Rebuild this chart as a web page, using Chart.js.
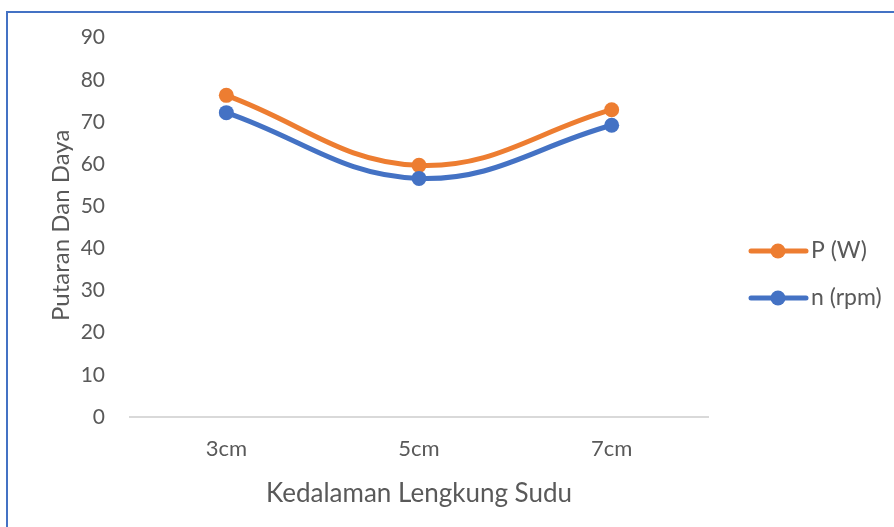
<!DOCTYPE html>
<html>
<head>
<meta charset="utf-8">
<script src="https://cdn.jsdelivr.net/npm/chart.js@4.4.0/dist/chart.umd.min.js"></script>
<style>
  html, body { margin: 0; padding: 0; background: #ffffff; }
  #wrap { position: relative; width: 894px; height: 527px; overflow: hidden; }
  #c { position: absolute; left: 0; top: 0; }
  #frame { position: absolute; left: 6px; top: 11px; width: 1000px; height: 1000px;
           border-left: 2px solid #4472C4; border-top: 2px solid #4472C4; pointer-events: none; }
</style>
</head>
<body>
<div id="wrap">
  <canvas id="c" width="894" height="527"></canvas>
  <div id="frame"></div>
</div>
<script>
const categories = ['3cm', '5cm', '7cm'];
const seriesNames = ['P (W)', 'n (rpm)'];
const powerW = [76.3, 59.7, 72.9];
const speedRpm = [72.2, 56.6, 69.2];
const yTicks = [0, 10, 20, 30, 40, 50, 60, 70, 80, 90];
const xTitle = 'Kedalaman Lengkung Sudu';
const yTitle = 'Putaran Dan Daya';

const ORANGE = '#ED7D31';
const BLUE = '#4472C4';
const TEXT = '#595959';
const FONT = 'Lato, "Open Sans", sans-serif';

const annotationsPlugin = {
  id: 'customLegendAndTitle',
  afterDraw(chart) {
    const ctx = chart.ctx;
    const area = chart.chartArea;
    ctx.save();
    ctx.setTransform(1, 0, 0, 1, 0, 0);
    // y-axis title: baseline on the right, letters extend to the left
    ctx.fillStyle = TEXT;
    ctx.font = '24px ' + FONT;
    ctx.textAlign = 'center';
    ctx.textBaseline = 'middle';
    ctx.translate(61, (area.top + area.bottom) / 2 - 2);
    ctx.rotate(-Math.PI / 2);
    ctx.fillText(yTitle, 0, 0);
    ctx.restore();

    const items = [
      { label: seriesNames[0], color: ORANGE, y: 251 },
      { label: seriesNames[1], color: BLUE, y: 298 }
    ];
    ctx.save();
    items.forEach(it => {
      ctx.strokeStyle = it.color;
      ctx.lineWidth = 5;
      ctx.lineCap = 'round';
      ctx.beginPath();
      ctx.moveTo(751, it.y);
      ctx.lineTo(806, it.y);
      ctx.stroke();
      ctx.fillStyle = it.color;
      ctx.beginPath();
      ctx.arc(778, it.y, 7.5, 0, Math.PI * 2);
      ctx.fill();
      ctx.fillStyle = TEXT;
      ctx.font = '23px ' + FONT;
      ctx.textBaseline = 'middle';
      ctx.textAlign = 'left';
      ctx.fillText(it.label, 811, it.y);
    });
    ctx.restore();
  }
};

new Chart(document.getElementById('c'), {
  type: 'line',
  data: {
    labels: categories,
    datasets: [
      { label: seriesNames[0], data: powerW, borderColor: ORANGE, backgroundColor: ORANGE,
        borderWidth: 5, pointRadius: 7.5, pointHoverRadius: 7.5, pointBorderWidth: 0,
        tension: 0.4, order: 2 },
      { label: seriesNames[1], data: speedRpm, borderColor: BLUE, backgroundColor: BLUE,
        borderWidth: 5, pointRadius: 7.5, pointHoverRadius: 7.5, pointBorderWidth: 0,
        tension: 0.4, order: 1 }
    ]
  },
  options: {
    responsive: false,
    animation: false,
    devicePixelRatio: 1,
    layout: { padding: { left: 0, right: 186, top: 37, bottom: 0 } },
    plugins: { legend: { display: false }, tooltip: { enabled: false } },
    scales: {
      x: {
        offset: true,
        grid: { display: false, drawTicks: false },
        border: { display: true, color: '#D9D9D9', width: 2 },
        ticks: { color: TEXT, font: { family: FONT, size: 22 }, padding: 19 },
        title: { display: true, text: xTitle, color: TEXT,
                 font: { family: FONT, size: 26 }, padding: { top: 0, bottom: 18 } },
        afterFit(scale) { scale.height = 110; }
      },
      y: {
        min: 0, max: 90,
        afterBuildTicks(scale) { scale.ticks = yTicks.map(v => ({ value: v })); },
        grid: { display: false, drawTicks: false },
        border: { display: false },
        ticks: { color: TEXT, font: { family: FONT, size: 21 }, padding: 25 },
        title: { display: false },
        afterFit(scale) { scale.width = 130; }
      }
    }
  },
  plugins: [annotationsPlugin]
});
</script>
</body>
</html>
